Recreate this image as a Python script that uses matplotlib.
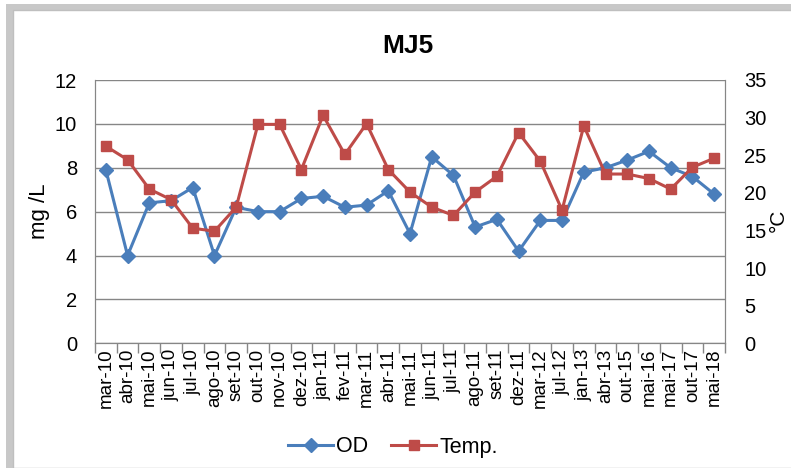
import numpy as np
import matplotlib
matplotlib.use("Agg")
import matplotlib.pyplot as plt
from matplotlib.patches import Rectangle

plt.rcParams["font.family"] = ["Liberation Sans", "DejaVu Sans"]

meses = ["mar-10", "abr-10", "mai-10", "jun-10", "jul-10", "ago-10", "set-10",
         "out-10", "nov-10", "dez-10", "jan-11", "fev-11", "mar-11", "abr-11",
         "mai-11", "jun-11", "jul-11", "ago-11", "set-11", "dez-11", "mar-12",
         "jul-12", "jan-13", "abr-13", "out-15", "mai-16", "mai-17", "out-17",
         "mai-18"]
od = [7.9, 4.0, 6.4, 6.5, 7.1, 4.0, 6.2, 6.0, 6.0, 6.6, 6.7, 6.2, 6.3, 6.95,
      5.0, 8.5, 7.65, 5.3, 5.65, 4.2, 5.6, 5.6, 7.8, 8.0, 8.35, 8.75, 8.0,
      7.6, 6.8]
temp = [26.2, 24.4, 20.5, 19.1, 15.3, 14.9, 18.1, 29.1, 29.1, 23.1, 30.3,
        25.1, 29.2, 23.1, 20.1, 18.1, 17.0, 20.1, 22.2, 28.0, 24.2, 17.7,
        28.9, 22.5, 22.5, 21.9, 20.5, 23.4, 24.6]

azul = "#4a7ebb"
vermelho = "#be4b48"
cinza = "#868686"

fig = plt.figure(figsize=(7.91, 4.68), dpi=100)

# moldura do gráfico com sombra
fig.patches.append(Rectangle((6 / 791, 0), 1, 1 - 4 / 468, transform=fig.transFigure,
                             facecolor="#c8c8c8", edgecolor="none", zorder=-10))
fig.patches.append(Rectangle((13 / 791, 0), 1, 1 - 10 / 468, transform=fig.transFigure,
                             facecolor="white", edgecolor="#bfbfbf", lw=1, zorder=-9))

ax = fig.add_axes([95 / 791, 1 - 343.3 / 468, 630 / 791, (343.3 - 80) / 468])
ax.patch.set_visible(False)
x = np.arange(len(meses))

ax.plot(x, od, color=azul, lw=2.2, marker="D", ms=7.5, label="OD", zorder=3)
ax.set_ylim(0, 12)
ax.set_yticks(range(0, 13, 2))
ax.set_xlim(-0.5, len(meses) - 0.5)
ax.set_xticks(x)
ax.set_xticklabels(meses, rotation=90, fontsize=13.5)
ax.set_xticks(np.arange(-0.5, len(meses), 1), minor=True)
ax.tick_params(axis="x", which="major", length=0, pad=4)
ax.tick_params(axis="x", which="minor", length=7, color=cinza, width=1)
ax.tick_params(axis="y", length=0, labelsize=14.5, pad=13)
ax.grid(axis="y", color=cinza, lw=1)
ax.set_axisbelow(True)
for s in ax.spines.values():
    s.set_color(cinza)
ax.spines["top"].set_visible(False)

ax2 = ax.twinx()
ax2.plot(x, temp, color=vermelho, lw=2.2, marker="s", ms=7.5, label="Temp.", zorder=3)
ax2.set_ylim(0, 35)
ax2.set_yticks(range(0, 36, 5))
ax2.tick_params(axis="y", length=0, labelsize=14.5, pad=14)
for s in ax2.spines.values():
    s.set_color(cinza)
ax2.spines["top"].set_visible(False)

fig.text(40 / 791, 1 - 211 / 468, "mg /L", fontsize=16, rotation=90,
         ha="center", va="center")
fig.text(778 / 791, 1 - 220 / 468, "°C", fontsize=15, rotation=90,
         ha="center", va="center")
fig.text(408 / 791, 1 - 46 / 468, "MJ5", fontsize=19, fontweight="bold",
         ha="center", va="center")

h1, l1 = ax.get_legend_handles_labels()
h2, l2 = ax2.get_legend_handles_labels()
fig.legend(h1 + h2, l1 + l2, loc="center", bbox_to_anchor=(393 / 791, 1 - 447 / 468),
           ncol=2, frameon=False, fontsize=15.5, handlelength=2.1, handletextpad=0.15,
           columnspacing=1.05, borderpad=0)

fig.savefig("out.png", dpi=100)
